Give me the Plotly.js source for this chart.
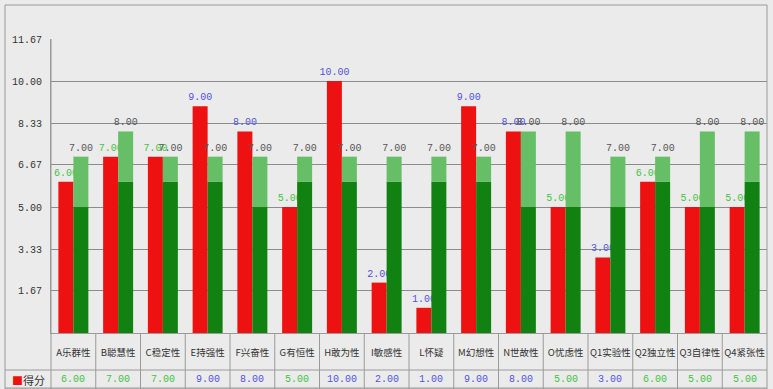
<!DOCTYPE html>
<html><head><meta charset="utf-8">
<script src="https://cdn.plot.ly/plotly-3.0.1.min.js"></script>
<style>html,body{margin:0;padding:0;background:#ebebeb;}#chart{width:773px;height:389px;}</style>
</head><body><div id="chart"></div>
<script>
const categories = ['A乐群性','B聪慧性','C稳定性','E持强性','F兴奋性','G有恒性','H敢为性','I敏感性','L怀疑','M幻想性','N世故性','O忧虑性','Q1实验性','Q2独立性','Q3自律性','Q4紧张性'];
const scores   = [6, 7, 7, 9, 8, 5, 10, 2, 1, 9, 8, 5, 3, 6, 5, 5];
const normLow  = [5, 6, 6, 6, 5, 6, 6, 6, 6, 6, 5, 5, 5, 6, 5, 6];
const normHigh = [7, 8, 7, 7, 7, 7, 7, 7, 7, 7, 8, 8, 7, 7, 8, 8];
const yTicks = [1.67, 3.33, 5.00, 6.67, 8.33, 10.00, 11.67];
const seriesName = '得分';

const W = 773, H = 389;
const L = 51, R = 767, T = 39, B = 333;
const px2x = p => (p - L) / (R - L);
const py2y = p => (B - p) / (B - T);

const numFont = 'Liberation Mono, monospace';
const cjkFont = '"Noto Sans CJK SC", sans-serif';
const scoreColor = v => (v >= 4 && v <= 7) ? '#3fc43f' : '#5252dc';

const traces = [
  {type:'bar', x:categories, y:scores, offsetgroup:'s', marker:{color:'#ee1111'},
   text:scores.map(v=>v.toFixed(2)), textposition:'outside', cliponaxis:false, constraintext:'none',
   textfont:{family:numFont, size:10, color:scores.map(scoreColor)}, hoverinfo:'skip', name:seriesName},
  {type:'bar', x:categories, y:normLow, offsetgroup:'n', marker:{color:'#118211'}, hoverinfo:'skip'},
  {type:'bar', x:categories, y:normHigh.map((h,i)=>h-normLow[i]), base:normLow, offsetgroup:'n',
   marker:{color:'#66bf66'}, text:normHigh.map(v=>v.toFixed(2)), textposition:'outside', cliponaxis:false,
   constraintext:'none', textfont:{family:numFont, size:10, color:'#555'}, hoverinfo:'skip'}
];

const shapes = [];
const lc = '#9a9a9a';
shapes.push({type:'rect', xref:'paper', yref:'paper', x0:px2x(5), x1:px2x(R), y0:py2y(389), y1:py2y(5), line:{color:lc, width:1}});
shapes.push({type:'line', xref:'paper', yref:'paper', x0:px2x(5), x1:px2x(R), y0:py2y(370), y1:py2y(370), line:{color:lc, width:1}});
shapes.push({type:'line', xref:'paper', yref:'paper', x0:px2x(5), x1:px2x(R), y0:py2y(388), y1:py2y(388), line:{color:lc, width:1}});
shapes.push({type:'line', xref:'paper', yref:'paper', x0:0, x1:0, y0:py2y(389), y1:1, line:{color:lc, width:1}});
categories.forEach((c,i)=>{
  if (i>0) shapes.push({type:'line', xref:'x', yref:'paper', x0:i-0.5, x1:i-0.5, y0:py2y(389), y1:0, line:{color:lc, width:1}});
});

const annotations = [];
categories.forEach((c,i)=>{
  annotations.push({xref:'x', yref:'paper', x:i, y:py2y(379.5), text:scores[i].toFixed(2), showarrow:false,
    yanchor:'middle', font:{family:numFont, size:10, color:scoreColor(scores[i])}});
});
annotations.push({xref:'paper', yref:'paper', x:px2x(10), y:py2y(379.5), xanchor:'left', yanchor:'middle', showarrow:false,
  text:'<span style="color:#ee1111">■</span>'+seriesName, font:{family:cjkFont, size:11, color:'#333'}});

const layout = {
  width:W, height:H, margin:{l:L, r:W-R, t:T, b:H-B, pad:0},
  paper_bgcolor:'#ebebeb', plot_bgcolor:'#ebebeb',
  barmode:'group', bargap:0.33, bargroupgap:0, showlegend:false,
  xaxis:{type:'category', showline:true, linecolor:lc, linewidth:1, ticks:'', showgrid:false, tickangle:0,
    tickfont:{family:cjkFont, size:9.5, color:'#333'}, ticklabelstandoff:11, fixedrange:true},
  yaxis:{range:[0, yTicks[yTicks.length-1]], tickvals:yTicks, ticktext:yTicks.map(v=>v.toFixed(2)),
    showline:true, linecolor:lc, linewidth:1, showgrid:true, gridcolor:'#8c8c8c', gridwidth:1,
    zeroline:false, ticks:'', ticklabelstandoff:6, tickfont:{family:numFont, size:10, color:'#333'}, fixedrange:true},
  shapes, annotations
};
Plotly.newPlot('chart', traces, layout, {staticPlot:true, displayModeBar:false});
</script></body></html>
